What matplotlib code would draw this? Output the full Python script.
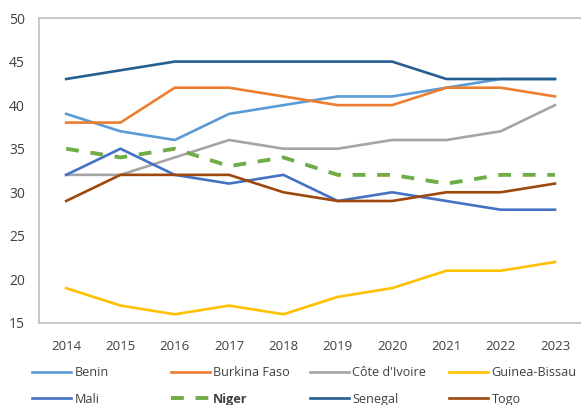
#!/usr/bin/env python3
"""
West African countries, yearly index 2014-2023, line chart
"""
import matplotlib.pyplot as plt

years = ['2014', '2015', '2016', '2017', '2018', '2019', '2020', '2021', '2022', '2023']

benin = [39, 37, 36, 39, 40, 41, 41, 42, 43, 43]
burkina_faso = [38, 38, 42, 42, 41, 40, 40, 42, 42, 41]
cote_divoire = [32, 32, 34, 36, 35, 35, 36, 36, 37, 40]
guinea_bissau = [19, 17, 16, 17, 16, 18, 19, 21, 21, 22]
mali = [32, 35, 32, 31, 32, 29, 30, 29, 28, 28]
niger = [35, 34, 35, 33, 34, 32, 32, 31, 32, 32]
senegal = [43, 44, 45, 45, 45, 45, 45, 43, 43, 43]
togo = [29, 32, 32, 32, 30, 29, 29, 30, 30, 31]

plt.rcParams['font.family'] = ['Open Sans', 'DejaVu Sans']

W, H = 581, 405
fig = plt.figure(figsize=(W / 100, H / 100), dpi=100)
ax = fig.add_axes([39 / W, 1 - 323 / H, 1 - 39 / W + 0.002, (323 - 18) / H])

x = list(range(len(years)))
series = [
    ('Benin', benin, '#5B9BD5', False),
    ('Burkina Faso', burkina_faso, '#ED7D31', False),
    ("Côte d'Ivoire", cote_divoire, '#A5A5A5', False),
    ('Guinea-Bissau', guinea_bissau, '#FFC000', False),
    ('Mali', mali, '#4472C4', False),
    ('Niger', niger, '#70AD47', True),
    ('Senegal', senegal, '#255E91', False),
    ('Togo', togo, '#9E480E', False),
]

handles = []
for name, vals, color, dashed in series:
    if dashed:
        h, = ax.plot(x, vals, color=color, linestyle=(0, (3.3, 3.0)), linewidth=2.8, label=name)
    else:
        h, = ax.plot(x, vals, color=color, linewidth=1.9, label=name)
    handles.append(h)

ax.set_xlim(-0.5, len(years) - 0.5)
ax.set_ylim(15, 50)
ax.set_yticks(range(15, 51, 5))
ax.set_xticks(x)
ax.set_xticklabels(years)
ax.tick_params(length=0, colors='#404040')
ax.tick_params(axis='x', pad=12, labelsize=9.5)
ax.tick_params(axis='y', pad=10, labelsize=10)

for side in ['left', 'top', 'bottom']:
    ax.spines[side].set_color('#BFBFBF')
    ax.spines[side].set_linewidth(1.2)
ax.spines['right'].set_visible(False)

# legend laid out row by row, fixed column width like the original
col_x = [32, 171, 310, 449]
for c in range(4):
    pair = [handles[c], handles[c + 4]]
    leg = fig.legend(handles=pair, loc='upper left',
                     bbox_to_anchor=(col_x[c] / W, 1 - 366 / H),
                     frameon=False, fontsize=9.1, handlelength=3.1, handletextpad=0.25,
                     borderpad=0, borderaxespad=0, labelspacing=1.1,
                     labelcolor='#404040')
    for text in leg.get_texts():
        if text.get_text() == 'Niger':
            text.set_fontweight('bold')

plt.savefig('out.png', dpi=100)
